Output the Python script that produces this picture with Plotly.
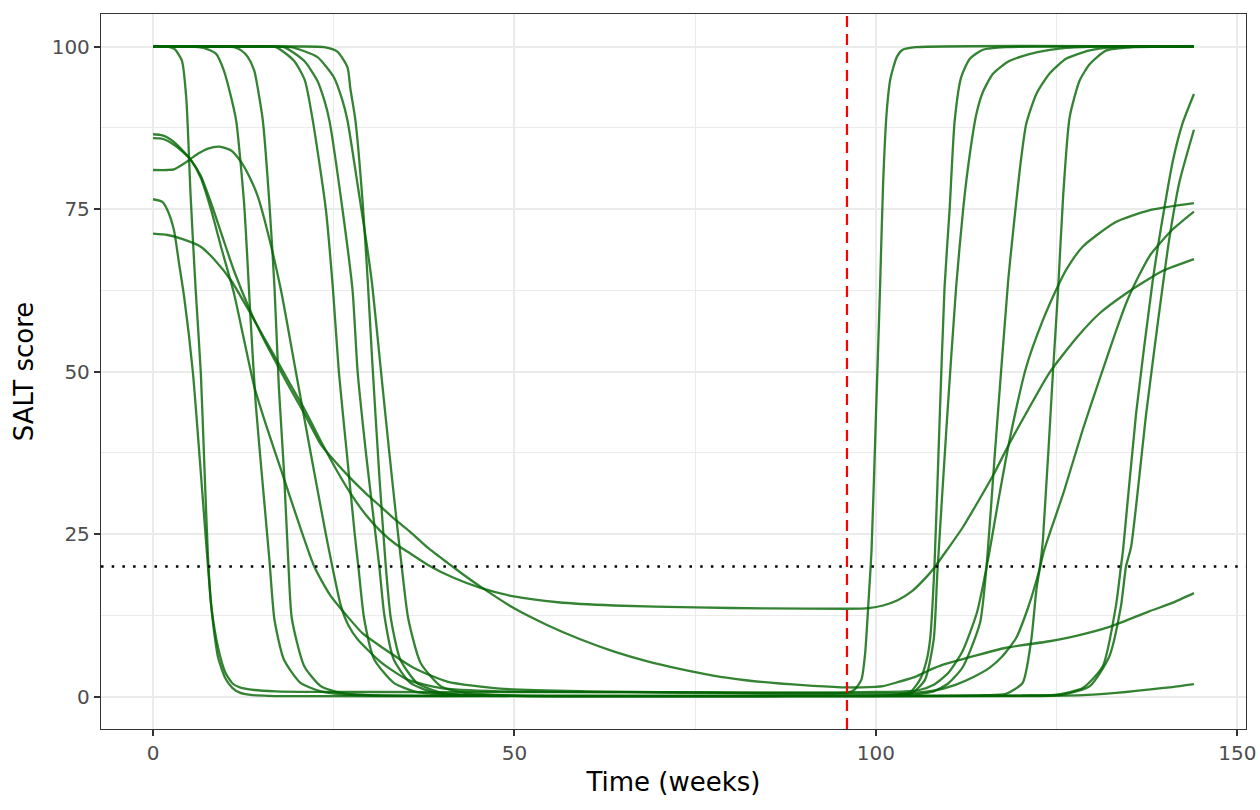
import plotly.graph_objects as go

# SALT score trajectories, (week, score) pairs
p01 = [(0, 100), (2, 100), (3, 99.6), (4, 97.8), (4.6, 92), (5.2, 77), (5.9, 62.5), (6.6, 50), (7.1, 35.5),
       (7.6, 21.5), (8, 14.5), (8.5, 9.5), (9, 6), (10, 2.8), (11, 1.3), (12, 0.6), (13.5, 0.25), (16, 0.1),
       (20, 0.05), (60, 0.05), (96, 0.05), (100, 0.08), (103, 0.3), (104.7, 0.6), (106.1, 2.6), (107, 5.5),
       (107.5, 8.8), (108.1, 20), (108.8, 42), (109.5, 63), (110.2, 75), (110.9, 88.6), (111.8, 95.3),
       (113, 98.1), (114.8, 99.5), (118, 99.9), (144, 100)]
p02 = [(0, 100), (5, 100), (7, 99.8), (8.7, 98.9), (9.8, 96.3), (10.8, 92.2), (11.5, 88.6), (12.6, 75.8),
       (13.5, 57.9), (14.2, 45.1), (15.2, 32.3), (16.1, 21), (16.8, 11.8), (18.1, 5.7), (20.4, 2.1), (23.2, 0.8),
       (26, 0.35), (32, 0.15), (50, 0.1), (96, 0.1), (100, 0.12), (103, 0.3), (105, 0.5), (106.8, 2.6), (108, 8.8),
       (108.5, 19), (109.8, 42), (111.1, 63), (112.1, 75.3), (113, 83.5), (113.9, 89.6), (114.8, 93),
       (116.2, 95.8), (118.5, 97.8), (122.2, 99.1), (126.3, 99.8), (131, 100), (144, 100)]
p03 = [(0, 100), (9, 100), (11.2, 99.9), (12.2, 99.4), (13.1, 98.4), (14, 96.3), (14.7, 92.2), (15.2, 88.5),
       (16.1, 75.8), (16.8, 63), (17.4, 47.7), (18.1, 34.9), (18.7, 21), (19.2, 12), (20.9, 4.7), (23.2, 1.6),
       (26, 0.55), (30, 0.2), (40, 0.1), (96, 0.1), (100, 0.1), (105, 0.3), (108, 0.8), (110, 2), (112, 4.5),
       (114.4, 11.3), (115.3, 20), (116.5, 38), (118.3, 64), (119, 71.7), (119.9, 81), (120.8, 88.1),
       (122.2, 92.7), (124, 95.8), (126.3, 98.1), (129.6, 99.4), (133.2, 99.9), (144, 100)]
p04 = [(0, 100), (14, 100), (17, 99.9), (19.5, 97.8), (21, 94.8), (22.1, 88.6), (23.9, 75), (24.9, 62.5),
       (25.7, 50), (26.8, 37.5), (27.9, 25), (28.4, 20), (29.2, 12), (30.6, 5.7), (33.3, 2.1), (36.1, 0.8),
       (40, 0.3), (50, 0.1), (96, 0.05), (110, 0.1), (115, 0.2), (118, 0.4), (120.3, 2.1), (121.5, 8.8),
       (122.2, 16.4), (122.7, 20), (123.1, 24), (124.5, 50), (125.2, 62.5), (125.9, 76.9), (126.8, 89.1),
       (128.2, 94.8), (129.6, 97.3), (131.9, 99.4), (135.5, 99.9), (144, 100)]
p05 = [(0, 100), (15, 100), (18.1, 99.9), (20.9, 97.8), (22.7, 94.8), (23.7, 91.7), (24.4, 88.6), (26.2, 75),
       (27.6, 62.5), (28.3, 50), (29.5, 37), (30.5, 27.5), (31.3, 20), (32, 12.5), (33.3, 5.7), (35.6, 2.1),
       (38.9, 0.6), (45, 0.15), (60, 0.03), (96, 0.02), (120, 0.05), (126, 0.12), (130, 0.3), (133.2, 0.55),
       (136, 0.85), (138, 1.1), (141, 1.45), (144, 1.9)]
p06 = [(0, 100), (16, 100), (19.1, 99.9), (22.7, 98.4), (25, 95.3), (26.2, 91.7), (26.9, 88.6), (28.4, 78),
       (29.5, 70), (30.3, 63.5), (31.4, 51.5), (32.5, 39.5), (33.5, 29), (34.4, 20), (35.3, 12), (37, 5.2),
       (39.8, 1.6), (43, 0.6), (50, 0.15), (96, 0.1), (120, 0.15), (125, 0.3), (128.6, 1.3), (131.4, 4.7),
       (133.2, 13.9), (133.9, 20), (134.2, 22.6), (136, 43.6), (138.3, 64), (139.7, 73.8), (141.1, 82.5),
       (142.4, 88.1), (144, 92.7)]
p07 = [(0, 100), (18, 100), (20.4, 100), (23.7, 99.9), (25.5, 99.2), (26.9, 96.8), (27.3, 93.5), (28, 88.6),
       (29, 76), (29.7, 64), (30.3, 52), (31.3, 34), (32.2, 20), (32.9, 12), (34.2, 5.7), (36.5, 2.1),
       (39.8, 0.6), (46, 0.15), (96, 0.1), (120, 0.15), (125.9, 0.3), (129.6, 1.6), (132.3, 6.2), (133.9, 13.9),
       (134.6, 20), (135.3, 23), (137.4, 43.6), (139, 57.5), (140.6, 70.5), (142, 79.2), (144, 87.2)]
p08 = [(0, 85.9), (1, 85.85), (2, 85.5), (3, 84.8), (4, 83.9), (5.2, 82.6), (6.6, 80.1), (8, 76), (9.4, 71.4),
       (11.2, 65.5), (13.5, 59.2), (15.3, 55), (17.2, 51), (19, 47.3), (20.9, 43.6), (23.2, 38.8), (25.3, 36),
       (27.3, 33.6), (29.4, 31.3), (31.5, 29.2), (33.5, 27.2), (35.6, 25.3), (38, 22.9), (40.7, 20.6),
       (43, 18.7), (45.3, 16.9), (49.9, 13.6), (54.5, 11), (59.1, 8.8), (63.8, 6.9), (68.4, 5.4), (73, 4.2),
       (77.5, 3.2), (82, 2.5), (86.7, 2.0), (91.3, 1.65), (96, 1.4), (98, 1.4), (101, 1.6), (103, 2.2),
       (105.6, 3.1), (107.5, 4.1), (109.3, 4.9), (112.5, 5.9), (118, 7.5), (124, 8.5), (128, 9.4),
       (132.3, 10.7), (137.8, 13.1), (141, 14.4), (144, 15.9)]
p09 = [(0, 86.5), (1, 86.4), (2, 86), (3, 85.2), (4, 84.1), (5.2, 82.6), (6.6, 79.8), (8, 75), (9.5, 68.8),
       (11.2, 62), (12.6, 54.8), (14, 47.7), (15.8, 41.2), (17.7, 34.9), (20, 27.2), (22.3, 20), (24.5, 15.6),
       (26.9, 12.3), (29, 9.7), (31.5, 7.7), (36.1, 4.4), (40.7, 2.3), (48, 1.2), (60, 0.8), (80, 0.55),
       (96, 0.45), (104, 0.5), (108, 0.9), (111, 1.8), (113.5, 3), (115.7, 4.4), (117.5, 6.2), (119.4, 9),
       (121, 13.5), (122.5, 19), (123.3, 22.6), (126, 31.5), (128.6, 41), (131, 49), (133.3, 56.5),
       (134.8, 61), (136.5, 65), (138, 68), (141, 71.8), (144, 74.6)]
p10 = [(0, 81), (2, 81), (2.9, 81.1), (4.3, 82), (6.2, 83.5), (7.6, 84.3), (9.2, 84.6), (10.8, 84), (12.2, 82.2),
       (13.4, 79.8), (14.5, 76.9), (15.8, 71.7), (17.7, 62.5), (19.75, 50), (21.8, 37.5), (23.9, 25), (24.8, 20),
       (26, 13.9), (27, 11), (28.3, 8.8), (31.5, 5.3), (35.2, 2.6), (39.8, 1.3), (48, 0.8), (70, 0.65), (96, 0.6),
       (97, 1.0), (98, 2.6), (98.5, 6.5), (99, 15), (99.4, 22.6), (100, 43), (100.55, 62), (101, 79),
       (101.5, 90), (102, 95), (102.9, 98.4), (103.7, 99.5), (105.6, 99.9), (144, 100)]
p11 = [(0, 76.5), (1.3, 76.1), (2, 74.8), (2.9, 71.7), (3.6, 66.6), (4.3, 61.5), (5.5, 50), (6.5, 36), (7.6, 20),
       (8.1, 13.5), (9, 7.5), (10, 3.7), (11, 2.0), (12, 1.4), (14, 1.0), (17, 0.8), (22, 0.72), (40, 0.68),
       (70, 0.66), (96, 0.65), (100, 0.7), (104, 0.8), (106, 1.0), (108, 1.8), (110, 3.6), (112, 7), (114, 13),
       (115.5, 21), (117, 30.5), (118.5, 39.5), (120.8, 50.7), (123.1, 57.9), (125.2, 63.2), (126.3, 65.6),
       (128.6, 69.2), (133.2, 73), (137.8, 74.8), (144, 75.9)]
p12 = [(0, 71.2), (2, 71.0), (4, 70.4), (6.6, 69.2), (8.5, 67.2), (10.8, 64), (13.5, 58.9), (15.3, 55.3),
       (17.2, 51.6), (19, 48), (20.9, 44.3), (23.2, 39.3), (25.2, 35.2), (27.3, 31.3), (29.4, 28), (31.5, 25.4),
       (33.5, 23.5), (35.6, 22), (38.4, 20), (41.5, 18.3), (45.3, 16.7), (49.9, 15.4), (56, 14.5), (63.7, 14.0),
       (75, 13.7), (85, 13.55), (96, 13.5), (99, 13.6), (101, 14.0), (103, 14.8), (105, 16.2), (107, 18.4),
       (108, 19.7), (110, 22.8), (112, 26), (116.2, 34), (118.5, 39), (121, 44), (124, 49.8), (128, 55.5),
       (131, 59), (134.6, 62), (137.4, 64), (139.7, 65.5), (144, 67.3)]

patients = [p01, p02, p03, p04, p05, p06, p07, p08, p09, p10, p11, p12]

stop_week = 96      # end of treatment
salt_cutoff = 20    # response threshold

x_ticks = [0, 50, 100, 150]
y_ticks = [0, 25, 50, 75, 100]

fig = go.Figure()

for pts in patients:
    wk = [p[0] for p in pts]
    salt = [p[1] for p in pts]
    fig.add_trace(go.Scatter(
        x=wk, y=salt, mode='lines',
        line=dict(color='rgba(0,100,0,0.8)', width=2.3, shape='spline', smoothing=0.6),
        showlegend=False, hoverinfo='skip'
    ))

fig.add_hline(y=salt_cutoff, line=dict(color='black', width=2.5, dash='2.5px,8.2px'), layer='above')
fig.add_vline(x=stop_week, line=dict(color='red', width=2.2, dash='11px,7px'), layer='above')

axis_common = dict(
    showgrid=True, gridcolor='#EBEBEB', gridwidth=2.2,
    minor=dict(showgrid=True, gridcolor='#EBEBEB', gridwidth=1.1),
    zeroline=False,
    showline=True, linecolor='#333333', linewidth=1.3, mirror=True,
    ticks='outside', ticklen=6, tickwidth=1.8, tickcolor='#333333',
    tickfont=dict(size=20, color='#4D4D4D', family='DejaVu Sans'),
    ticklabeloverflow='allow',
)

fig.update_xaxes(range=[-7.2, 151.2], tickvals=x_ticks, minor_dtick=25, minor_tick0=25,
                 title=dict(text='Time (weeks)', font=dict(size=26, color='black', family='DejaVu Sans'),
                            standoff=8),
                 **axis_common)
fig.update_yaxes(range=[-5, 105], tickvals=y_ticks, minor_dtick=25, minor_tick0=12.5,
                 title=dict(text='SALT score', font=dict(size=26, color='black', family='DejaVu Sans'),
                            standoff=10),
                 **axis_common)

fig.update_layout(
    width=1260, height=810,
    margin=dict(l=101, r=14, t=14, b=81, autoexpand=False),
    plot_bgcolor='white', paper_bgcolor='white',
    font=dict(family='DejaVu Sans'),
)

# drop the default page margin so the 1260x810 figure fills the window exactly
fig.write_html('out.html', config={'displayModeBar': False},
               post_script="document.body.style.margin='0';")
